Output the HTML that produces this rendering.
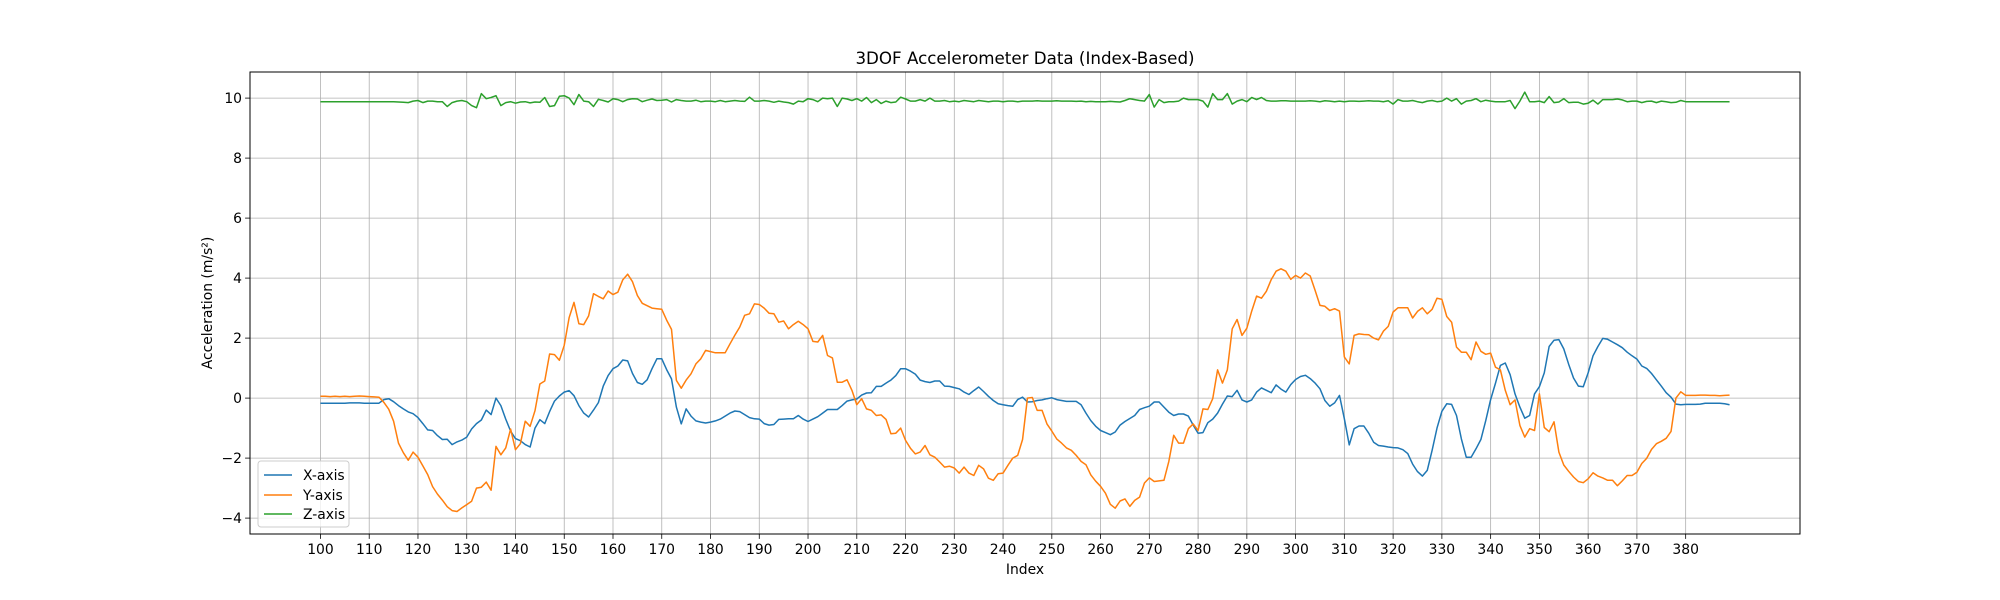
<!DOCTYPE html>
<html><head><meta charset="utf-8"><style>
html,body{margin:0;padding:0;background:#fff;}
svg{display:block;font-family:"DejaVu Sans","Liberation Sans",sans-serif;}
</style></head><body>
<svg id="chart" width="2000" height="600" viewBox="0 0 2000 600" xmlns="http://www.w3.org/2000/svg">
<rect x="0" y="0" width="2000" height="600" fill="#fff"/>
<text x="1025" y="64" font-size="16.7" text-anchor="middle" fill="#000">3DOF Accelerometer Data (Index-Based)</text>
<g id="grid"></g>
<g id="series"></g>
<rect x="250" y="72" width="1550" height="462" fill="none" stroke="#000" stroke-width="1"/>
<g id="ticks"></g>
<text x="1025" y="574" font-size="13.9" text-anchor="middle">Index</text>
<text x="0" y="0" font-size="13.9" text-anchor="middle" transform="translate(212,303) rotate(-90)">Acceleration (m/s²)</text>
<g>
<rect x="258" y="461" width="91" height="66" rx="3" fill="#fff" fill-opacity="0.8" stroke="#ccc" stroke-width="1"/>
<g><line x1="264" y1="475" x2="292" y2="475" stroke="#1f77b4" stroke-width="1.5"/><text x="303" y="480" font-size="13.9">X-axis</text></g>
<g><line x1="264" y1="495" x2="292" y2="495" stroke="#ff7f0e" stroke-width="1.5"/><text x="303" y="500" font-size="13.9">Y-axis</text></g>
<g><line x1="264" y1="514" x2="292" y2="514" stroke="#2ca02c" stroke-width="1.5"/><text x="303" y="519" font-size="13.9">Z-axis</text></g>
</g>
</svg>
<script>
const startIndex = 100;
const xTicks = [100,110,120,130,140,150,160,170,180,190,200,210,220,230,240,250,260,270,280,290,300,310,320,330,340,350,360,370,380];
const yTicks = [-4,-2,0,2,4,6,8,10];
const xAxisData = [
-0.17,-0.17,-0.17,-0.17,-0.17,-0.17,-0.16,-0.16,-0.16,-0.17,
-0.17,-0.17,-0.17,-0.05,-0.02,-0.12,-0.25,-0.36,-0.46,-0.52,
-0.65,-0.85,-1.06,-1.08,-1.25,-1.38,-1.37,-1.55,-1.46,-1.4,
-1.3,-1.03,-0.85,-0.73,-0.4,-0.55,0.0,-0.25,-0.7,-1.1,
-1.35,-1.42,-1.55,-1.63,-1.0,-0.72,-0.85,-0.45,-0.1,0.07,
0.2,0.25,0.08,-0.25,-0.5,-0.63,-0.4,-0.15,0.4,0.75,
0.98,1.07,1.27,1.24,0.82,0.52,0.46,0.61,0.98,1.31,
1.31,0.95,0.64,-0.3,-0.86,-0.36,-0.6,-0.76,-0.8,-0.83,
-0.8,-0.76,-0.7,-0.6,-0.5,-0.43,-0.45,-0.55,-0.65,-0.69,
-0.7,-0.85,-0.9,-0.88,-0.71,-0.7,-0.69,-0.69,-0.58,-0.7,
-0.78,-0.7,-0.62,-0.5,-0.38,-0.38,-0.38,-0.25,-0.1,-0.06,
-0.03,0.1,0.17,0.18,0.39,0.39,0.5,0.6,0.75,0.98,
0.98,0.9,0.8,0.6,0.55,0.52,0.57,0.57,0.4,0.39,
0.35,0.31,0.2,0.12,0.25,0.37,0.22,0.06,-0.08,-0.19,
-0.22,-0.25,-0.27,-0.05,0.03,-0.13,-0.12,-0.08,-0.06,-0.02,
0.01,-0.05,-0.08,-0.11,-0.11,-0.11,-0.22,-0.5,-0.75,-0.94,
-1.08,-1.15,-1.22,-1.13,-0.9,-0.78,-0.68,-0.58,-0.38,-0.32,
-0.27,-0.13,-0.13,-0.3,-0.47,-0.58,-0.53,-0.53,-0.6,-0.9,
-1.17,-1.15,-0.82,-0.7,-0.5,-0.2,0.07,0.05,0.26,-0.06,
-0.13,-0.06,0.2,0.34,0.26,0.18,0.44,0.3,0.2,0.45,
0.62,0.72,0.76,0.65,0.5,0.31,-0.08,-0.27,-0.16,0.09,
-0.69,-1.56,-1.02,-0.93,-0.93,-1.17,-1.47,-1.58,-1.6,-1.63,
-1.65,-1.66,-1.72,-1.85,-2.2,-2.45,-2.6,-2.41,-1.74,-1.0,
-0.44,-0.19,-0.21,-0.58,-1.36,-1.97,-1.97,-1.69,-1.38,-0.75,
-0.05,0.5,1.09,1.17,0.78,0.14,-0.3,-0.67,-0.58,0.14,
0.38,0.84,1.72,1.93,1.95,1.64,1.13,0.67,0.4,0.38,
0.84,1.41,1.72,1.99,1.96,1.87,1.78,1.68,1.53,1.41,
1.3,1.07,0.99,0.82,0.61,0.4,0.18,0.03,-0.2,-0.22,
-0.21,-0.21,-0.21,-0.2,-0.17,-0.17,-0.17,-0.17,-0.19,-0.22];
const yAxisData = [
0.06,0.06,0.05,0.06,0.05,0.06,0.05,0.06,0.07,0.06,
0.05,0.04,0.03,-0.14,-0.37,-0.77,-1.5,-1.82,-2.07,-1.8,
-1.97,-2.26,-2.55,-2.95,-3.2,-3.4,-3.62,-3.75,-3.78,-3.66,
-3.55,-3.44,-3.0,-2.97,-2.8,-3.07,-1.61,-1.89,-1.66,-1.03,
-1.72,-1.52,-0.77,-0.94,-0.42,0.47,0.57,1.47,1.45,1.26,
1.76,2.68,3.19,2.48,2.45,2.74,3.48,3.39,3.31,3.57,
3.45,3.53,3.94,4.13,3.88,3.42,3.16,3.08,3.0,2.98,
2.96,2.6,2.29,0.59,0.33,0.6,0.81,1.14,1.31,1.59,
1.55,1.51,1.51,1.51,1.81,2.1,2.37,2.76,2.81,3.14,
3.12,3.0,2.83,2.81,2.53,2.57,2.31,2.45,2.56,2.45,
2.31,1.89,1.87,2.09,1.42,1.34,0.53,0.53,0.61,0.26,
-0.22,-0.02,-0.36,-0.41,-0.58,-0.56,-0.71,-1.19,-1.17,-1.0,
-1.41,-1.67,-1.86,-1.8,-1.58,-1.89,-1.97,-2.13,-2.3,-2.27,
-2.33,-2.5,-2.3,-2.5,-2.58,-2.24,-2.36,-2.67,-2.74,-2.52,
-2.5,-2.24,-2.0,-1.91,-1.38,0.0,0.02,-0.41,-0.41,-0.86,
-1.1,-1.36,-1.5,-1.66,-1.74,-1.91,-2.11,-2.22,-2.56,-2.77,
-2.94,-3.17,-3.54,-3.67,-3.43,-3.36,-3.61,-3.41,-3.3,-2.83,
-2.66,-2.78,-2.76,-2.74,-2.11,-1.24,-1.5,-1.5,-1.02,-0.86,
-1.08,-0.36,-0.38,-0.02,0.94,0.5,0.94,2.31,2.62,2.09,
2.33,2.9,3.4,3.33,3.56,3.95,4.23,4.31,4.23,3.96,
4.09,4.0,4.17,4.07,3.59,3.09,3.06,2.92,2.98,2.9,
1.37,1.14,2.09,2.14,2.12,2.11,2.0,1.94,2.23,2.39,
2.87,3.01,3.01,3.01,2.67,2.89,3.01,2.81,2.96,3.33,
3.29,2.72,2.53,1.7,1.53,1.53,1.28,1.87,1.56,1.46,
1.5,1.03,0.94,0.26,-0.22,-0.06,-0.91,-1.3,-1.02,-1.08,
0.14,-0.98,-1.12,-0.79,-1.8,-2.23,-2.44,-2.63,-2.78,-2.82,
-2.69,-2.49,-2.6,-2.66,-2.74,-2.74,-2.92,-2.76,-2.58,-2.58,
-2.47,-2.18,-2.01,-1.71,-1.52,-1.44,-1.34,-1.11,0.0,0.21,
0.09,0.09,0.09,0.1,0.1,0.09,0.09,0.08,0.09,0.1];
const zAxisData = [
9.88,9.88,9.88,9.88,9.88,9.88,9.88,9.88,9.88,9.88,
9.88,9.88,9.88,9.88,9.88,9.88,9.87,9.86,9.85,9.9,
9.92,9.85,9.9,9.9,9.88,9.88,9.72,9.85,9.9,9.92,
9.88,9.75,9.68,10.15,9.98,10.02,10.08,9.75,9.85,9.88,
9.83,9.87,9.88,9.84,9.87,9.86,10.02,9.72,9.75,10.06,
10.08,10.0,9.78,10.12,9.9,9.88,9.72,9.96,9.92,9.87,
9.98,9.95,9.88,9.95,9.98,9.97,9.88,9.93,9.97,9.92,
9.93,9.95,9.87,9.95,9.92,9.9,9.9,9.93,9.88,9.9,
9.9,9.88,9.92,9.88,9.9,9.92,9.9,9.89,10.03,9.9,
9.9,9.92,9.9,9.86,9.9,9.87,9.85,9.8,9.9,9.88,
9.98,9.95,9.88,10.0,9.98,10.0,9.72,10.0,9.97,9.92,
9.98,9.9,10.02,9.85,9.95,9.82,9.9,9.85,9.87,10.03,
9.97,9.9,9.9,9.95,9.9,10.0,9.9,9.9,9.92,9.88,
9.9,9.88,9.92,9.9,9.88,9.92,9.9,9.88,9.9,9.9,
9.88,9.9,9.9,9.88,9.9,9.9,9.9,9.91,9.9,9.9,
9.9,9.91,9.9,9.9,9.9,9.89,9.9,9.88,9.89,9.88,
9.88,9.88,9.89,9.88,9.87,9.92,9.98,9.95,9.92,9.9,
10.12,9.7,9.95,9.85,9.88,9.88,9.9,10.0,9.95,9.95,
9.95,9.9,9.7,10.15,9.95,9.95,10.15,9.8,9.9,9.95,
9.88,10.02,9.95,10.02,9.92,9.9,9.9,9.91,9.91,9.9,
9.9,9.9,9.9,9.91,9.9,9.88,9.91,9.9,9.88,9.9,
9.88,9.9,9.9,9.89,9.9,9.91,9.9,9.9,9.88,9.91,
9.8,9.95,9.9,9.9,9.92,9.88,9.85,9.9,9.92,9.88,
9.9,10.0,9.9,9.98,9.8,9.9,9.92,9.98,9.88,9.93,
9.9,9.88,9.88,9.88,9.92,9.65,9.9,10.2,9.88,9.88,
9.9,9.85,10.05,9.85,9.87,9.98,9.85,9.86,9.86,9.8,
9.83,9.93,9.8,9.95,9.95,9.95,9.97,9.94,9.88,9.9,
9.9,9.85,9.89,9.9,9.85,9.9,9.88,9.85,9.86,9.92,
9.88,9.88,9.88,9.88,9.88,9.88,9.88,9.88,9.88,9.88];

const NS = "http://www.w3.org/2000/svg";
const PL = 250, PR = 1800, PT = 72, PB = 534;
const n = Math.max(xAxisData.length, yAxisData.length, zAxisData.length);
const xMinD = startIndex, xMaxD = startIndex + n - 1;
const xPad = (xMaxD - xMinD) * 0.05;
const xlo = xMinD - xPad, xhi = xMaxD + xPad;
const ylo = -4.53, yhi = 10.87;
function sx(v){ return PL + (v - xlo) / (xhi - xlo) * (PR - PL); }
function sy(v){ return PB - (v - ylo) / (yhi - ylo) * (PB - PT); }

const grid = document.getElementById('grid');
const ticks = document.getElementById('ticks');
xTicks.forEach(t => {
  const x = sx(t);
  const gl = document.createElementNS(NS, 'line');
  gl.setAttribute('x1', x); gl.setAttribute('x2', x); gl.setAttribute('y1', PT); gl.setAttribute('y2', PB);
  gl.setAttribute('stroke', '#b0b0b0'); gl.setAttribute('stroke-width', '0.8');
  
  
  grid.appendChild(gl);
  const tk = document.createElementNS(NS, 'line');
  tk.setAttribute('x1', x); tk.setAttribute('x2', x); tk.setAttribute('y1', PB); tk.setAttribute('y2', PB + 4.9);
  tk.setAttribute('stroke', '#000'); tk.setAttribute('stroke-width', '0.8');
  
  
  ticks.appendChild(tk);
  const lb = document.createElementNS(NS, 'text');
  lb.setAttribute('x', x); lb.setAttribute('y', PB + 20); lb.setAttribute('font-size', '13.9'); lb.setAttribute('text-anchor', 'middle');
  lb.textContent = String(t);
  
  
  ticks.appendChild(lb);
});
yTicks.forEach(t => {
  const y = sy(t);
  const gl = document.createElementNS(NS, 'line');
  gl.setAttribute('x1', PL); gl.setAttribute('x2', PR); gl.setAttribute('y1', y); gl.setAttribute('y2', y);
  gl.setAttribute('stroke', '#b0b0b0'); gl.setAttribute('stroke-width', '0.8');
  
  
  grid.appendChild(gl);
  const tk = document.createElementNS(NS, 'line');
  tk.setAttribute('x1', PL - 4.9); tk.setAttribute('x2', PL); tk.setAttribute('y1', y); tk.setAttribute('y2', y);
  tk.setAttribute('stroke', '#000'); tk.setAttribute('stroke-width', '0.8');
  
  
  ticks.appendChild(tk);
  const lb = document.createElementNS(NS, 'text');
  lb.setAttribute('x', PL - 8); lb.setAttribute('y', y + 5); lb.setAttribute('font-size', '13.9'); lb.setAttribute('text-anchor', 'end');
  lb.textContent = (t < 0 ? '\u2212' + Math.abs(t) : String(t));
  
  
  ticks.appendChild(lb);
});

const series = document.getElementById('series');
function drawLine(data, color, name){
  const pts = data.map((v, i) => sx(startIndex + i).toFixed(2) + ',' + sy(v).toFixed(2)).join(' ');
  const pl = document.createElementNS(NS, 'polyline');
  pl.setAttribute('points', pts);
  pl.setAttribute('fill', 'none');
  pl.setAttribute('stroke', color);
  pl.setAttribute('stroke-width', '1.5');
  pl.setAttribute('stroke-linejoin', 'round');
  
  
  series.appendChild(pl);
}
drawLine(xAxisData, '#1f77b4', 'x-axis-line');
drawLine(yAxisData, '#ff7f0e', 'y-axis-line');
drawLine(zAxisData, '#2ca02c', 'z-axis-line');
</script>
</body></html>
